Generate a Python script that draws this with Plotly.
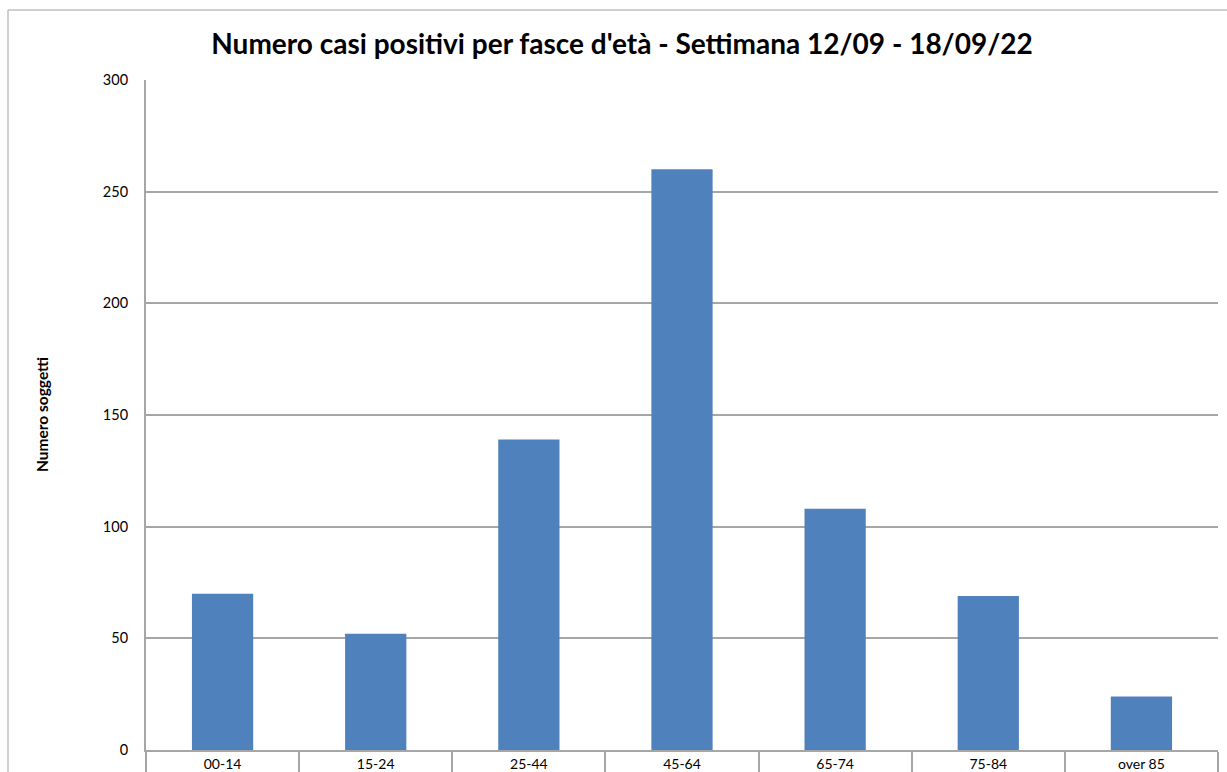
import plotly.graph_objects as go

categories = ["00-14", "15-24", "25-44", "45-64", "65-74", "75-84", "over 85"]
values = [70, 52, 139, 260, 108, 69, 24]
y_ticks = [0, 50, 100, 150, 200, 250, 300]

title_text = "Numero casi positivi per fasce d'età - Settimana 12/09 - 18/09/22"
y_title = "Numero soggetti"

W, H = 1227, 772
L, R, T, B = 146, 9, 80, 22
pw, ph = W - L - R, H - T - B

def px_to_paper_x(px):
    return (px - L) / pw

def px_to_paper_y(py):
    return 1 - (py - T) / ph

fig = go.Figure(
    go.Bar(
        x=categories,
        y=values,
        marker=dict(color="#4F81BD", line=dict(width=0)),
        width=0.4,
        hoverinfo="x+y",
    )
)

font_family = "Lato, 'Open Sans', 'Liberation Sans', sans-serif"

fig.update_layout(
    width=W,
    height=H,
    margin=dict(l=L, r=R, t=T, b=B, autoexpand=False),
    paper_bgcolor="white",
    plot_bgcolor="white",
    showlegend=False,
    font=dict(family=font_family, color="#000000", size=14),
    title=dict(
        text="<b>" + title_text + "</b>",
        x=px_to_paper_x(622), xref="paper", xanchor="center",
        y=1 - 44 / H, yref="container", yanchor="middle",
        font=dict(size=28, family=font_family, color="#000000"),
    ),
    xaxis=dict(
        automargin=False,
        showgrid=False,
        showline=True,
        linecolor="#a6a6a6",
        linewidth=2,
        ticks="outside",
        tickson="boundaries",
        ticklen=30,
        tickcolor="#a6a6a6",
        tickwidth=2,
        tickfont=dict(size=14),
        fixedrange=True,
    ),
    yaxis=dict(
        automargin=False,
        range=[0, 300],
        tickvals=y_ticks,
        showgrid=True,
        gridcolor="#a6a6a6",
        gridwidth=1.5,
        showline=True,
        linecolor="#a6a6a6",
        linewidth=2,
        zeroline=False,
        ticks="",
        ticklabelstandoff=13,
        tickfont=dict(size=14.5),
        fixedrange=True,
    ),
)

fig.add_annotation(
    text="<b>" + y_title + "</b>",
    xref="paper", yref="paper",
    x=px_to_paper_x(42), y=px_to_paper_y(415),
    textangle=-90, showarrow=False,
    font=dict(size=15.5, family=font_family, color="#000000"),
    xanchor="center", yanchor="middle",
)

fig.add_shape(type="line", xref="paper", yref="paper",
              x0=px_to_paper_x(8), x1=px_to_paper_x(1240),
              y0=px_to_paper_y(10), y1=px_to_paper_y(10),
              line=dict(color="#bfbfbf", width=1.5))
fig.add_shape(type="line", xref="paper", yref="paper",
              x0=px_to_paper_x(8), x1=px_to_paper_x(8),
              y0=px_to_paper_y(10), y1=px_to_paper_y(790),
              line=dict(color="#bfbfbf", width=1.5))

fig.write_html(
    "out.html",
    config={"displayModeBar": False},
    post_script="document.body.style.margin='0';document.body.style.padding='0';document.body.style.overflow='hidden';",
)
